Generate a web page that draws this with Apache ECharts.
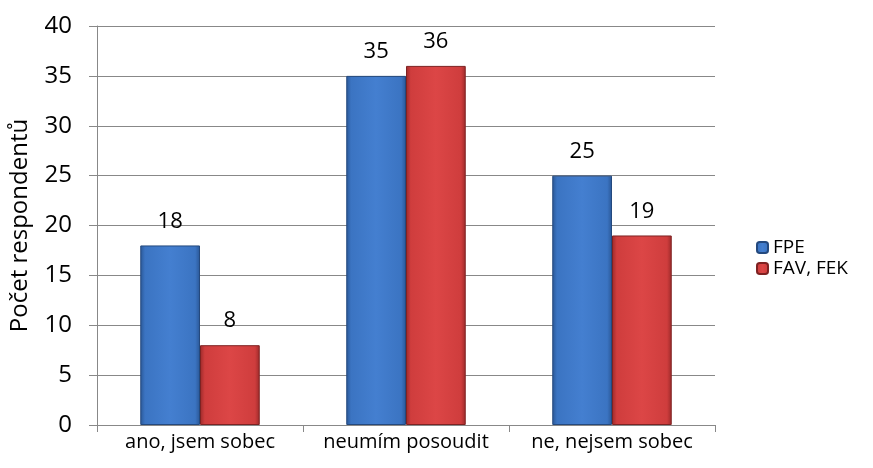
<!DOCTYPE html>
<html>
<head>
<meta charset="utf-8">
<script src="https://cdn.jsdelivr.net/npm/echarts@6/dist/echarts.min.js"></script>
<style>
html, body { margin: 0; padding: 0; background: #fff; }
#chart { width: 873px; height: 468px; }
</style>
</head>
<body>
<div id="chart"></div>
<script>
// data
var categories = ['ano, jsem sobec', 'neumím posoudit', 'ne, nejsem sobec'];
var fpe = [18, 35, 25];
var favFek = [8, 36, 19];
var yTicks = [0, 5, 10, 15, 20, 25, 30, 35, 40];

var font = '"Open Sans", "Noto Sans", sans-serif';

// bevel-ish look of the original bars
function bevel(dark, mid, light) {
    return new echarts.graphic.LinearGradient(0, 0, 1, 0, [
        { offset: 0, color: dark },
        { offset: 0.08, color: mid },
        { offset: 0.5, color: light },
        { offset: 0.92, color: mid },
        { offset: 1, color: dark }
    ]);
}

var myChart = echarts.init(document.getElementById('chart'));

var option = {
    animation: false,
    textStyle: { fontFamily: font },
    grid: { left: 97, right: 158, top: 26, bottom: 43, outerBoundsMode: 'none' },
    legend: {
        orient: 'vertical',
        left: 751,
        top: 233,
        itemWidth: 11,
        itemHeight: 11,
        itemGap: 2,
        textStyle: { fontSize: 19, color: '#000', fontFamily: font },
        data: ['FPE', 'FAV, FEK']
    },
    xAxis: {
        type: 'category',
        data: categories,
        axisLine: { lineStyle: { color: '#888' } },
        axisTick: { show: true, length: 7, lineStyle: { color: '#888' } },
        axisLabel: { fontSize: 20, color: '#000', margin: 7, interval: 0 }
    },
    yAxis: {
        type: 'value',
        min: 0,
        max: 40,
        interval: 5,
        name: 'Počet respondentů',
        nameLocation: 'middle',
        nameGap: 65,
        nameTextStyle: { fontSize: 24, color: '#000' },
        axisLine: { show: true, lineStyle: { color: '#888' } },
        axisTick: { show: true, length: 8, lineStyle: { color: '#888' } },
        axisLabel: {
            fontSize: 24, color: '#000', margin: 25,
            formatter: function (v) { return yTicks.indexOf(v) >= 0 ? String(v) : ''; }
        },
        splitLine: { lineStyle: { color: '#888' } }
    },
    series: [{
        name: 'FPE',
        type: 'bar',
        data: fpe,
        barGap: '0%',
        barCategoryGap: '42%',
        itemStyle: {
            color: bevel('#2a5796', '#3b74c2', '#447fd0'),
            borderColor: '#24497e',
            borderWidth: 1
        },
        label: { show: true, position: 'top', distance: 13, fontSize: 22, color: '#000' }
    }, {
        name: 'FAV, FEK',
        type: 'bar',
        data: favFek,
        itemStyle: {
            color: bevel('#9c2a2a', '#cf3d3d', '#dc4646'),
            borderColor: '#7e2222',
            borderWidth: 1
        },
        label: { show: true, position: 'top', distance: 13, fontSize: 22, color: '#000' }
    }]
};

myChart.setOption(option);
</script>
</body>
</html>
